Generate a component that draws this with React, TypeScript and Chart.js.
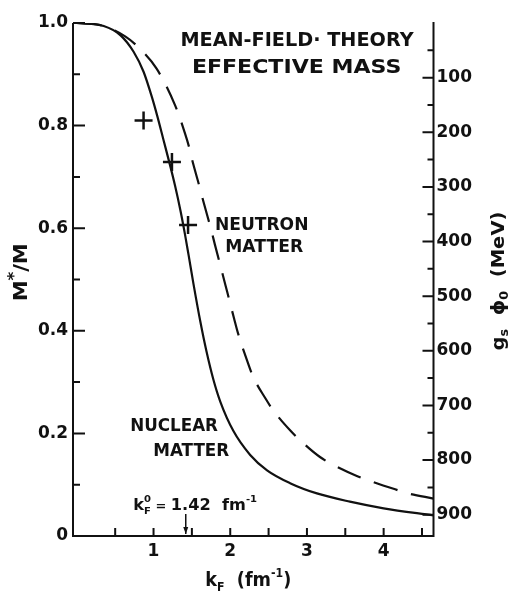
import React, { useEffect, useRef } from "react";
import { Chart, registerables } from "chart.js";

Chart.register(...registerables);

// ---- data (k_F in fm^-1, M*/M) ----
const nuclearK = [0, 0.35, 0.57, 0.74, 0.87, 0.98, 1.05, 1.13, 1.22, 1.28, 1.35, 1.41, 1.46, 1.52, 1.61, 1.69, 1.78, 1.87, 2.04, 2.26, 2.48, 2.78, 3.13, 3.56, 4.0, 4.65];
const nuclearM = [1.0, 0.994, 0.976, 0.944, 0.905, 0.855, 0.818, 0.772, 0.72, 0.683, 0.635, 0.588, 0.545, 0.492, 0.418, 0.36, 0.305, 0.262, 0.205, 0.158, 0.128, 0.103, 0.083, 0.067, 0.054, 0.04];
const neutronK = [0, 0.3, 0.63, 0.8, 1.04, 1.28, 1.41, 1.46, 1.5, 1.61, 1.65, 1.76, 1.8, 1.91, 1.96, 2.05, 2.1, 2.22, 2.3, 2.46, 2.56, 2.78, 2.93, 3.17, 3.35, 3.65, 3.85, 4.15, 4.32, 4.65];
const neutronM = [1.0, 0.996, 0.974, 0.953, 0.911, 0.84, 0.785, 0.76, 0.735, 0.675, 0.652, 0.592, 0.568, 0.505, 0.476, 0.424, 0.396, 0.342, 0.31, 0.268, 0.245, 0.206, 0.184, 0.154, 0.138, 0.117, 0.106, 0.091, 0.083, 0.073];
const crossK = [0.87, 1.24, 1.45];
const crossM = [0.81, 0.729, 0.606];

// ---- axes ----
const leftMajor = [0, 0.2, 0.4, 0.6, 0.8, 1.0];
const leftMinor = [0.1, 0.3, 0.5, 0.7, 0.9];
const rightMajor = [100, 200, 300, 400, 500, 600, 700, 800, 900];
const rightMinor = [50, 150, 250, 350, 450, 550, 650, 750, 850];
const bottomTicks = [0.5, 1, 1.5, 2, 2.5, 3, 3.5, 4, 4.5];
const bottomLabels = [1, 2, 3, 4];
const NUCLEON_MASS = 939;
const KF0 = 1.42;

// ---- annotations (placed in data coordinates) ----
const notes = [
  { text: "MEAN-FIELD· THEORY", k0: 1.35, k1: 4.39, m: 0.966, size: 20 },
  { text: "EFFECTIVE MASS", k0: 1.5, k1: 4.23, m: 0.912, size: 20 },
  { text: "NEUTRON", k0: 1.8, k1: 3.02, m: 0.606, size: 18 },
  { text: "MATTER", k0: 1.935, k1: 2.95, m: 0.563, size: 18 },
  { text: "NUCLEAR", k0: 0.696, k1: 1.84, m: 0.214, size: 18 },
  { text: "MATTER", k0: 0.996, k1: 1.987, m: 0.166, size: 18 },
];

const INK = "#111";
const FAMILY = '"DejaVu Sans", sans-serif';

type Run = { t: string; f: number; dy: number; stack?: boolean };

function layoutRuns(ctx: CanvasRenderingContext2D, runs: Run[], base: number) {
  let x = 0;
  let prevStart = 0;
  let prevW = 0;
  const out: { r: Run; x: number }[] = [];
  for (const r of runs) {
    ctx.font = `bold ${base * r.f}px ${FAMILY}`;
    const w = ctx.measureText(r.t).width;
    if (r.stack) {
      out.push({ r, x: prevStart });
      const adv = Math.max(prevW, w);
      x = prevStart + adv;
      prevW = adv;
    } else {
      out.push({ r, x });
      prevStart = x;
      prevW = w;
      x += w;
    }
  }
  return { items: out, width: x };
}

function drawRuns(
  ctx: CanvasRenderingContext2D,
  runs: Run[],
  x: number,
  y: number,
  base: number,
  targetW: number | null,
  align: "left" | "center",
  baseline: CanvasTextBaseline
) {
  const { items, width } = layoutRuns(ctx, runs, base);
  const sx = targetW ? targetW / width : 1;
  ctx.save();
  ctx.translate(x, y);
  ctx.scale(sx, 1);
  const off = align === "center" ? -width / 2 : 0;
  ctx.textAlign = "left";
  ctx.textBaseline = baseline;
  ctx.fillStyle = INK;
  for (const it of items) {
    ctx.font = `bold ${base * it.r.f}px ${FAMILY}`;
    ctx.fillText(it.r.t, off + it.x, it.r.dy * base);
  }
  ctx.restore();
}

const decorPlugin = {
  id: "decor",
  afterDraw(chart: any) {
    const { ctx, chartArea: a, scales } = chart;
    const x = scales.x;
    const y = scales.y;
    const y1 = scales.y1;
    ctx.save();
    ctx.strokeStyle = INK;
    ctx.lineCap = "butt";
    // axis lines
    ctx.lineWidth = 2;
    ctx.beginPath();
    ctx.moveTo(a.left, a.top);
    ctx.lineTo(a.left, a.bottom);
    ctx.lineTo(a.right, a.bottom);
    ctx.lineTo(a.right, a.top - 1);
    ctx.stroke();
    // left ticks (inward)
    ctx.lineWidth = 2;
    ctx.beginPath();
    for (const v of leftMajor) {
      const p = y.getPixelForValue(v);
      ctx.moveTo(a.left, p);
      ctx.lineTo(a.left + 12, p);
    }
    for (const v of leftMinor) {
      const p = y.getPixelForValue(v);
      ctx.moveTo(a.left, p);
      ctx.lineTo(a.left + 7, p);
    }
    // right ticks (inward)
    for (const v of rightMajor) {
      const p = y1.getPixelForValue(v);
      ctx.moveTo(a.right, p);
      ctx.lineTo(a.right - 11, p);
    }
    for (const v of rightMinor) {
      const p = y1.getPixelForValue(v);
      ctx.moveTo(a.right, p);
      ctx.lineTo(a.right - 6, p);
    }
    // bottom ticks (upward)
    for (const v of bottomTicks) {
      const p = x.getPixelForValue(v);
      ctx.moveTo(p, a.bottom);
      ctx.lineTo(p, a.bottom - 8);
    }
    ctx.stroke();

    // k_F^0 arrow
    const ax = x.getPixelForValue(KF0);
    const aTop = y.getPixelForValue(0.043);
    const aBot = y.getPixelForValue(0.004);
    ctx.lineWidth = 1.5;
    ctx.beginPath();
    ctx.moveTo(ax, aTop);
    ctx.lineTo(ax, aBot);
    ctx.stroke();
    ctx.fillStyle = INK;
    ctx.beginPath();
    ctx.moveTo(ax - 2.5, aBot - 7);
    ctx.lineTo(ax + 2.5, aBot - 7);
    ctx.lineTo(ax, aBot);
    ctx.closePath();
    ctx.fill();
    ctx.restore();

    // in-plot notes
    for (const n of notes) {
      const px0 = x.getPixelForValue(n.k0);
      const px1 = x.getPixelForValue(n.k1);
      const py = y.getPixelForValue(n.m);
      drawRuns(ctx, [{ t: n.text, f: 1, dy: 0 }], px0, py, n.size, px1 - px0, "left", "middle");
    }

    // k_F^0 = 1.42 fm^-1
    {
      const px0 = x.getPixelForValue(0.735);
      const px1 = x.getPixelForValue(2.35);
      const py = y.getPixelForValue(0.051);
      drawRuns(
        ctx,
        [
          { t: "k", f: 1, dy: 0 },
          { t: "F", f: 0.62, dy: 0.3 },
          { t: "0", f: 0.62, dy: -0.55, stack: true },
          { t: " = ", f: 0.8, dy: 0 },
          { t: "1.42  fm", f: 1, dy: 0 },
          { t: "-1", f: 0.62, dy: -0.5 },
        ],
        px0,
        py,
        15,
        px1 - px0,
        "left",
        "alphabetic"
      );
    }

    // bottom axis title
    {
      const cx = (a.left + a.right) / 2 - 5;
      drawRuns(
        ctx,
        [
          { t: "k", f: 1, dy: 0 },
          { t: "F", f: 0.62, dy: 0.25 },
          { t: "  (fm", f: 1, dy: 0 },
          { t: "-1", f: 0.62, dy: -0.45 },
          { t: ")", f: 1, dy: 0 },
        ],
        cx,
        a.bottom + 50,
        19,
        86,
        "center",
        "alphabetic"
      );
    }

    // left axis title (rotated)
    {
      ctx.save();
      ctx.translate(a.left - 51, y.getPixelForValue(0.514));
      ctx.rotate(-Math.PI / 2);
      drawRuns(
        ctx,
        [
          { t: "M", f: 1, dy: 0 },
          { t: "*", f: 0.8, dy: -0.35 },
          { t: "/M", f: 1, dy: 0 },
        ],
        0,
        0,
        19,
        58,
        "center",
        "middle"
      );
      ctx.restore();
    }

    // right axis title (rotated)
    {
      ctx.save();
      ctx.translate(a.right + 66, y.getPixelForValue(0.497));
      ctx.rotate(-Math.PI / 2);
      drawRuns(
        ctx,
        [
          { t: "g", f: 1, dy: 0 },
          { t: "s", f: 0.65, dy: 0.3 },
          { t: "  ϕ", f: 1, dy: 0 },
          { t: "0", f: 0.65, dy: 0.3 },
          { t: "  (MeV)", f: 1, dy: 0 },
        ],
        0,
        0,
        18,
        139,
        "center",
        "middle"
      );
      ctx.restore();
    }
  },
};

export default function App() {
  const ref = useRef<HTMLCanvasElement | null>(null);

  useEffect(() => {
    document.body.style.margin = "0";
    const canvas = ref.current;
    if (!canvas) return;
    const tickFont = { family: FAMILY, size: 17, weight: "bold" as const };
    const chart = new Chart(canvas, {
      type: "line",
      data: {
        datasets: [
          {
            label: "Nuclear matter",
            data: nuclearK.map((k, i) => ({ x: k, y: nuclearM[i] })),
            borderColor: INK,
            borderWidth: 2.2,
            pointRadius: 0,
            cubicInterpolationMode: "monotone",
            fill: false,
          },
          {
            label: "Neutron matter",
            data: neutronK.map((k, i) => ({ x: k, y: neutronM[i] })),
            borderColor: INK,
            borderWidth: 2.2,
            borderDash: [25, 14],
            pointRadius: 0,
            cubicInterpolationMode: "monotone",
            fill: false,
          },
          {
            label: "Points",
            data: crossK.map((k, i) => ({ x: k, y: crossM[i] })),
            showLine: false,
            pointStyle: "cross",
            pointRadius: 9,
            borderColor: INK,
            pointBorderWidth: 2.5,
            backgroundColor: INK,
          },
        ],
      },
      options: {
        responsive: false,
        animation: false,
        devicePixelRatio: 1,
        layout: { padding: { top: 23, left: 0, right: 0, bottom: 0 } },
        plugins: {
          legend: { display: false },
          tooltip: { enabled: false },
        },
        scales: {
          x: {
            type: "linear",
            min: -0.05,
            max: 4.65,
            grid: { display: false, drawTicks: false },
            border: { display: false },
            afterBuildTicks: (s: any) => {
              s.ticks = bottomLabels.map((v) => ({ value: v }));
            },
            afterFit: (s: any) => {
              s.height = 58;
            },
            ticks: {
              color: INK,
              font: tickFont,
              padding: 5,
              maxRotation: 0,
              autoSkip: false,
              callback: (v: any) => String(v),
            },
          },
          y: {
            type: "linear",
            position: "left",
            min: 0,
            max: 1,
            grid: { display: false, drawTicks: false },
            border: { display: false },
            afterBuildTicks: (s: any) => {
              s.ticks = leftMajor.map((v) => ({ value: v }));
            },
            afterFit: (s: any) => {
              s.width = 73;
            },
            ticks: {
              color: INK,
              font: tickFont,
              padding: 5,
              autoSkip: false,
              callback: (v: any) => (Number(v) === 0 ? "0" : Number(v).toFixed(1)),
            },
          },
          y1: {
            type: "linear",
            position: "right",
            reverse: true,
            min: 0,
            max: NUCLEON_MASS,
            grid: { display: false, drawTicks: false },
            border: { display: false },
            afterBuildTicks: (s: any) => {
              s.ticks = rightMajor.map((v) => ({ value: v }));
            },
            afterFit: (s: any) => {
              s.width = 83.5;
            },
            ticks: {
              color: INK,
              font: tickFont,
              padding: 3,
              autoSkip: false,
              callback: (v: any) => String(v),
            },
          },
        },
      },
      plugins: [decorPlugin],
    });
    return () => chart.destroy();
  }, []);

  return (
    <div style={{ width: 517, height: 594, background: "#fff" }}>
      <canvas ref={ref} width={517} height={594} style={{ display: "block", width: 517, height: 594 }} />
    </div>
  );
}
